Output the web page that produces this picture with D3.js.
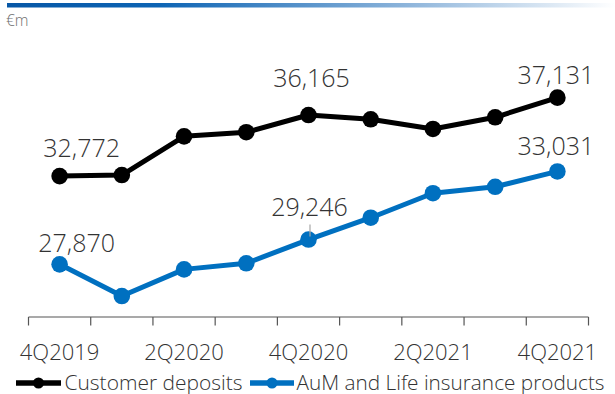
<!DOCTYPE html>
<html>
<head>
<meta charset="utf-8">
<script src="https://cdn.jsdelivr.net/npm/d3@7"></script>
<style>
  html, body { margin: 0; padding: 0; background: #fff; }
  svg { display: block; font-family: "Open Sans", "Lato", sans-serif; font-weight: 300; }
</style>
</head>
<body>
<svg id="chart" width="615" height="394"></svg>
<script>
// Quarterly balances, € millions
const quarters = ["4Q2019", "1Q2020", "2Q2020", "3Q2020", "4Q2020", "1Q2021", "2Q2021", "3Q2021", "4Q2021"];
const tickLabels = ["4Q2019", "2Q2020", "4Q2020", "2Q2021", "4Q2021"];
const customerDeposits = [32772, 32830, 34980, 35210, 36165, 35930, 35390, 36040, 37131];
const aumLifeInsurance = [27870, 26110, 27590, 27930, 29246, 30460, 31820, 32180, 33031];
const seriesNames = ["Customer deposits", "AuM and Life insurance products"];
const labelledIndex = [0, 4, 8];

const colors = ["#000000", "#0070c0"];
const series = [customerDeposits, aumLifeInsurance];

// Value-label placement: [dx from point, baseline dy from point]
const labelOffsets = [
  [[22, -19.5], [3, -28], [-1.5, -13.5]],
  [[17, -12], [1, -24], [-1.5, -16.5]]
];

const svg = d3.select("#chart");

// Header rule: blue fading to white
const defs = svg.append("defs");
const grad = defs.append("linearGradient").attr("id", "headRule");
grad.append("stop").attr("offset", "0%").attr("stop-color", "#0757a6");
grad.append("stop").attr("offset", "25%").attr("stop-color", "#0d64b4");
grad.append("stop").attr("offset", "65%").attr("stop-color", "#8bb3da");
grad.append("stop").attr("offset", "100%").attr("stop-color", "#ffffff");
svg.append("rect").attr("x", 7).attr("y", 3).attr("width", 608).attr("height", 4.5)
  .attr("fill", "url(#headRule)");

svg.append("text").attr("x", 6).attr("y", 26)
  .attr("font-size", 15.5).attr("fill", "#6e6e6e").text("€m");

const x = d3.scaleBand().domain(quarters).range([28.5, 588.5]).paddingInner(0).paddingOuter(0);
const cx = q => x(q) + x.bandwidth() / 2;
const y = d3.scaleLinear().domain([25000, 40000]).range([316, 46]);
const axisY = 317;

// Category axis with ticks on band boundaries
const axisG = svg.append("g").attr("stroke", "#555").attr("stroke-width", 1.2);
axisG.append("line").attr("x1", x.range()[0]).attr("x2", x.range()[1])
  .attr("y1", axisY).attr("y2", axisY);
const bounds = quarters.map(q => x(q)).concat([x.range()[1]]);
axisG.selectAll("line.tick").data(bounds).join("line").attr("class", "tick")
  .attr("x1", d => d).attr("x2", d => d).attr("y1", axisY).attr("y2", axisY + 8.5);

svg.append("g").selectAll("text").data(tickLabels).join("text")
  .attr("x", d => cx(d)).attr("y", 360)
  .attr("text-anchor", "middle").attr("font-size", 22).attr("fill", "#333")
  .text(d => d);

const line = d3.line().x((d, i) => cx(quarters[i])).y(d => y(d));

series.forEach((vals, s) => {
  const g = svg.append("g");
  g.append("path").datum(vals).attr("d", line)
    .attr("fill", "none").attr("stroke", colors[s]).attr("stroke-width", 5)
    .attr("stroke-linejoin", "round");
  g.selectAll("circle").data(vals).join("circle")
    .attr("cx", (d, i) => cx(quarters[i])).attr("cy", d => y(d)).attr("r", 8.3)
    .attr("fill", colors[s]);
});

// Short leader for the mid-period AuM label
svg.append("line")
  .attr("x1", cx(quarters[4]) + 1.5).attr("x2", cx(quarters[4]) + 1.5)
  .attr("y1", y(aumLifeInsurance[4]) - 15).attr("y2", y(aumLifeInsurance[4]) - 3)
  .attr("stroke", "#a6a6a6").attr("stroke-width", 1.2);

const fmt = d3.format(",");
series.forEach((vals, s) => {
  labelledIndex.forEach((idx, k) => {
    const [dx, dy] = labelOffsets[s][k];
    svg.append("text")
      .attr("x", cx(quarters[idx]) + dx).attr("y", y(vals[idx]) + dy)
      .attr("text-anchor", "middle").attr("font-size", 25).attr("fill", "#333")
      .text(fmt(vals[idx]));
  });
});

// Legend along the bottom edge
const legendY = 383;
const legend = [
  { x1: 16, x2: 61, tx: 64.5 },
  { x1: 250, x2: 294, tx: 296.5 }
];
legend.forEach((l, s) => {
  const g = svg.append("g");
  g.append("line").attr("x1", l.x1).attr("x2", l.x2).attr("y1", legendY).attr("y2", legendY)
    .attr("stroke", colors[s]).attr("stroke-width", 5.5);
  g.append("circle").attr("cx", (l.x1 + l.x2) / 2).attr("cy", legendY).attr("r", 5.5)
    .attr("fill", colors[s]);
  g.append("text").attr("x", l.tx).attr("y", legendY + 6.5).attr("font-size", 20.5).attr("fill", "#333")
    .attr("textLength", s === 0 ? 178 : 308).attr("lengthAdjust", "spacingAndGlyphs")
    .text(seriesNames[s]);
});
</script>
</body>
</html>
